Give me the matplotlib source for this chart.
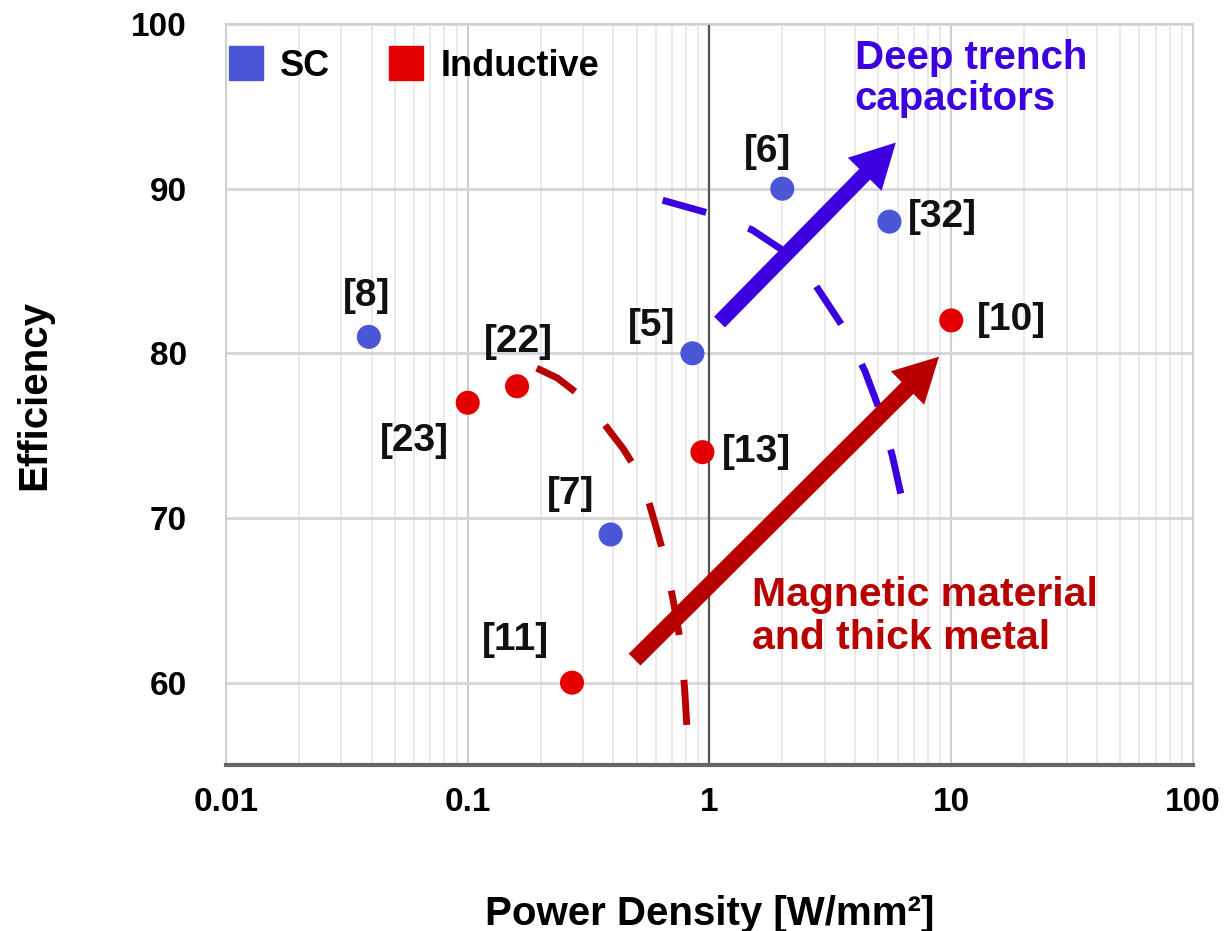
import numpy as np
import matplotlib
matplotlib.use("Agg")
import matplotlib.pyplot as plt
from matplotlib.lines import Line2D
from matplotlib.ticker import LogLocator, NullFormatter, FixedLocator

plt.rcParams['font.family'] = ['Liberation Sans', 'DejaVu Sans']
plt.rcParams['font.weight'] = 'bold'

# --- data ---
sc_refs = ['[8]', '[7]', '[5]', '[6]', '[32]']
sc_density = [0.039, 0.39, 0.85, 2.0, 5.55]
sc_eff = [81, 69, 80, 90, 88]

ind_refs = ['[23]', '[22]', '[11]', '[13]', '[10]']
ind_density = [0.10, 0.16, 0.27, 0.935, 10.0]
ind_eff = [77, 78, 60, 74, 82]

# dashed boundary curves (hand drawn in the original)
sc_curve_x = [0.64, 1.0, 1.5, 1.99, 2.7, 3.68, 4.4, 5.04, 5.7, 6.4]
sc_curve_y = [89.3, 88.5, 87.5, 86.3, 84.3, 81.3, 78.9, 76.6, 73.8, 70.5]
ind_curve_x = [0.193, 0.235, 0.282, 0.33, 0.39, 0.44, 0.49, 0.55, 0.60,
               0.652, 0.71, 0.766, 0.79, 0.811]
ind_curve_y = [79.1, 78.5, 77.6, 76.6, 75.2, 74.2, 73.1, 71.4, 69.5,
               67.6, 64.9, 62.1, 59.5, 56.7]

# trend arrows: (start), (tip)
sc_arrow = ((1.1, 81.9), (5.9, 92.8))
ind_arrow = ((0.49, 61.4), (8.9, 79.8))

x_ticks = [0.01, 0.1, 1, 10, 100]
x_tick_labels = ['0.01', '0.1', '1', '10', '100']
y_ticks = [60, 70, 80, 90, 100]

# --- styles ---
SC_BLUE = '#4a56d6'
IND_RED = '#e50000'
TRENCH = '#3c00e0'
MAGNET = '#b80000'

# label offsets in pixels (dx, dy, ha)
sc_offsets = [(-2, 41, 'center'), (-40, 40, 'center'), (-41, 27, 'center'),
              (-15, 37, 'center'), (18, 5, 'left')]
ind_offsets = [(-53, -38, 'center'), (1, 44, 'center'), (-57, 43, 'center'),
               (19, 0, 'left'), (26, 0, 'left')]

fig = plt.figure(figsize=(12.24, 9.31), dpi=100)
ax = fig.add_axes([0.1846, 0.1783, 0.7901, 0.7959])
ax.set_xscale('log')
ax.set_xlim(0.01, 100)
ax.set_ylim(55, 100)

# grid
ax.xaxis.set_major_locator(FixedLocator(x_ticks))
ax.xaxis.set_minor_locator(LogLocator(base=10, subs=np.arange(2, 10)))
ax.xaxis.set_minor_formatter(NullFormatter())
ax.set_xticks(x_ticks)
ax.set_xticklabels(x_tick_labels)
ax.set_yticks(y_ticks)
ax.grid(True, which='minor', axis='x', color='#e6e6e6', lw=1.2)
ax.grid(True, which='major', axis='x', color='#cfcfcf', lw=1.5)
ax.grid(True, which='major', axis='y', color='#d6d6d6', lw=2)
ax.set_axisbelow(True)
ax.axvline(1, color='#555555', lw=1.6, zorder=1)
ax.tick_params(which='both', length=0)
ax.tick_params(axis='x', labelsize=24, pad=16)
ax.tick_params(axis='y', labelsize=24, pad=28)

for side in ['top', 'left', 'right']:
    ax.spines[side].set_color('#d0d0d0')
    ax.spines[side].set_linewidth(1.5)
ax.spines['bottom'].set_color('#666666')
ax.spines['bottom'].set_linewidth(3)

# dashed curves
ax.plot(sc_curve_x, sc_curve_y, color=TRENCH, lw=5, dashes=(6.5, 6.5), zorder=2)
ax.plot(ind_curve_x, ind_curve_y, color=MAGNET, lw=5, dashes=(6.5, 6.5), zorder=2)

# arrows
for (start, tip), col, tw in [(sc_arrow, TRENCH, 0.55), (ind_arrow, MAGNET, 0.6)]:
    ax.annotate('', xy=tip, xytext=start,
                arrowprops=dict(arrowstyle=f'simple,head_width=1.7,head_length=1.6,tail_width={tw}',
                                mutation_scale=20, fc=col, ec=col, lw=0,
                                shrinkA=0, shrinkB=0), zorder=3)

# points
ax.scatter(sc_density, sc_eff, s=300, color=SC_BLUE, zorder=4, edgecolors='none')
ax.scatter(ind_density, ind_eff, s=300, color=IND_RED, zorder=4, edgecolors='none')

for refs, xs, ys, offs in [(sc_refs, sc_density, sc_eff, sc_offsets),
                           (ind_refs, ind_density, ind_eff, ind_offsets)]:
    for r, x, y, (dx, dy, ha) in zip(refs, xs, ys, offs):
        ax.annotate(r, (x, y), xytext=(dx, dy), textcoords='offset pixels',
                    ha=ha, va='center', fontsize=28, fontweight='bold',
                    color='#111111', zorder=5)

ax.text(0.650, 0.980, 'Deep trench\ncapacitors', transform=ax.transAxes,
        ha='left', va='top', fontsize=29, fontweight='bold', color=TRENCH,
        linespacing=1.12)
ax.text(0.544, 0.255, 'Magnetic material\nand thick metal', transform=ax.transAxes,
        ha='left', va='top', fontsize=29.5, fontweight='bold', color=MAGNET,
        linespacing=1.15)

handles = [Line2D([], [], marker='s', ls='none', ms=24, color=SC_BLUE, label='SC'),
           Line2D([], [], marker='s', ls='none', ms=24, color=IND_RED, label='Inductive')]
ax.legend(handles=handles, loc='upper left', bbox_to_anchor=(-0.032, 1.01),
          ncol=2, frameon=False, fontsize=26, handlelength=1.0,
          handletextpad=0.45, columnspacing=1.6)

ax.set_xlabel('Power Density [W/mm²]', fontsize=29, fontweight='bold', labelpad=55)
ax.set_ylabel('Efficiency', fontsize=29, fontweight='bold', labelpad=56)

fig.savefig('out.png', dpi=100)
